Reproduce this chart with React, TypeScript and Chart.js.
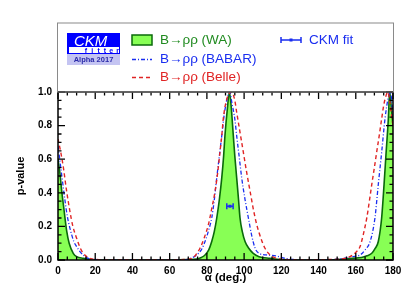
import React, { useEffect, useRef } from "react";
import { Chart, registerables } from "chart.js";

Chart.register(...registerables);

// ---------- data ----------
const waAlpha = [0, 1, 2, 3, 4.7, 6, 8.2, 10, 13.6, 20, 60, 70, 74.5, 77, 79, 81, 82.6, 84, 85.3, 86.7, 88, 89, 89.7, 91, 92.1, 93, 94.2, 95, 96, 97, 97.8, 99, 100.5, 102.5, 104.9, 108, 113.9, 120, 140, 150, 158, 163, 166, 168.6, 170.5, 172.1, 173.9, 175.2, 176.3, 177.5, 178.2, 179, 180];
const waP = [0.6, 0.52, 0.41, 0.32, 0.17, 0.1, 0.04, 0.02, 0.01, 0.0, 0.0, 0.002, 0.005, 0.015, 0.03, 0.06, 0.11, 0.17, 0.25, 0.36, 0.49, 0.62, 0.74, 0.9, 1.0, 0.92, 0.74, 0.62, 0.49, 0.36, 0.25, 0.17, 0.11, 0.07, 0.04, 0.02, 0.01, 0.003, 0.0, 0.002, 0.01, 0.015, 0.025, 0.04, 0.07, 0.11, 0.25, 0.45, 0.64, 0.84, 1.0, 0.92, 0.8];

const babarAlpha = [0, 1.5, 3.8, 5, 6.4, 8.5, 10, 11.8, 14, 16.3, 20, 25, 65, 70, 74.5, 77, 79, 81, 82.6, 84, 85.3, 86.7, 88, 89.5, 92.3, 93.5, 95, 96, 97.3, 98.7, 100.5, 102.3, 104, 105.9, 108, 112, 117, 122, 128, 135, 145, 150, 153.3, 158, 162.3, 165, 167.7, 170.3, 172.1, 173.9, 175.7, 177.5, 178.5, 179.3, 180];
const babarP = [0.68, 0.55, 0.35, 0.26, 0.19, 0.11, 0.08, 0.05, 0.025, 0.01, 0.003, 0.0, 0.0, 0.005, 0.03, 0.06, 0.11, 0.18, 0.25, 0.36, 0.49, 0.62, 0.74, 0.88, 1.0, 0.93, 0.84, 0.74, 0.62, 0.49, 0.36, 0.25, 0.15, 0.07, 0.04, 0.03, 0.025, 0.01, 0.002, 0.0, 0.0, 0.005, 0.01, 0.02, 0.03, 0.06, 0.11, 0.25, 0.45, 0.64, 0.84, 0.97, 1.0, 0.95, 0.85];

const belleAlpha = [0, 1.5, 2.9, 4.5, 6.4, 8, 10, 12, 13.6, 17, 22, 28, 62, 68, 71.8, 74, 76.3, 78.5, 80.8, 82.5, 84.4, 85.8, 87, 88, 88.8, 90.5, 93.3, 95, 96, 97.8, 99.6, 101.4, 103.2, 105, 106.8, 109, 111.2, 114, 117.5, 122, 128, 140, 146, 151.5, 156.9, 160, 162.3, 164, 165.9, 167.3, 168.6, 170, 171.2, 172.6, 173.9, 175, 176.3, 177.2, 178.2, 179, 180];
const belleP = [0.72, 0.64, 0.55, 0.42, 0.29, 0.2, 0.13, 0.07, 0.04, 0.01, 0.002, 0.0, 0.0, 0.004, 0.01, 0.03, 0.07, 0.13, 0.21, 0.3, 0.41, 0.52, 0.64, 0.74, 0.84, 0.95, 1.0, 0.95, 0.88, 0.76, 0.64, 0.52, 0.41, 0.3, 0.21, 0.13, 0.07, 0.03, 0.01, 0.003, 0.0, 0.0, 0.003, 0.005, 0.02, 0.045, 0.08, 0.15, 0.25, 0.35, 0.45, 0.55, 0.64, 0.74, 0.84, 0.92, 0.98, 1.0, 0.95, 0.88, 0.8];

const fitAlpha = [92.4];
const fitErrLow = [1.7];
const fitErrHigh = [1.7];
const fitP = [0.32];

const legendLabels = ["B→ρρ (WA)", "B→ρρ (BABAR)", "B→ρρ (Belle)", "CKM fit"];
const logoTexts = ["CKM", "fitter", "Alpha 2017"];
const xTitle = "α (deg.)";
const yTitle = "p-value";

const FONT = "'Liberation Sans', Arial, Helvetica, sans-serif";
const GREEN_FILL = "#88ff55";
const GREEN_LINE = "#0a6a0a";
const GREEN_TEXT = "#1f8a1f";
const BLUE = "#1a2ef0";
const RED = "#e02424";

const pts = (xs: number[], ys: number[]) => xs.map((x, i) => ({ x, y: ys[i] }));

const framePlugin = {
  id: "frameTicks",
  afterDatasetsDraw(chart: any) {
    const { ctx, chartArea: a, scales } = chart;
    const x = scales.x;
    const y = scales.y;
    ctx.save();
    // CKM fit error bar
    ctx.strokeStyle = BLUE;
    ctx.fillStyle = BLUE;
    ctx.lineWidth = 1.5;
    fitAlpha.forEach((v, i) => {
      const py = y.getPixelForValue(fitP[i]);
      const x0 = x.getPixelForValue(v - fitErrLow[i]);
      const x1 = x.getPixelForValue(v + fitErrHigh[i]);
      ctx.beginPath();
      ctx.moveTo(x0, py);
      ctx.lineTo(x1, py);
      ctx.moveTo(x0, py - 3);
      ctx.lineTo(x0, py + 3);
      ctx.moveTo(x1, py - 3);
      ctx.lineTo(x1, py + 3);
      ctx.stroke();
      ctx.fillRect(x.getPixelForValue(v) - 1.5, py - 1.5, 3, 3);
    });

    ctx.strokeStyle = "#000";
    ctx.lineWidth = 1.3;
    ctx.beginPath();
    for (let k = 0; k <= 36; k++) {
      const v = k * 5;
      const px = x.getPixelForValue(v);
      const len = k % 4 === 0 ? 7 : 3.5;
      ctx.moveTo(px, a.bottom);
      ctx.lineTo(px, a.bottom - len);
      ctx.moveTo(px, a.top);
      ctx.lineTo(px, a.top + len);
    }
    for (let k = 0; k <= 20; k++) {
      const v = k * 0.05;
      const py = y.getPixelForValue(v);
      const len = k % 4 === 0 ? 7 : 3.5;
      ctx.moveTo(a.left, py);
      ctx.lineTo(a.left + len, py);
      ctx.moveTo(a.right, py);
      ctx.lineTo(a.right - len, py);
    }
    ctx.stroke();
    ctx.lineWidth = 1.5;
    ctx.strokeRect(a.left, a.top, a.right - a.left, a.bottom - a.top);
    ctx.restore();
  },
  afterDraw(chart: any) {
    const { ctx, chartArea: a } = chart;
    ctx.save();
    // legend frame
    ctx.strokeStyle = "#8a8a8a";
    ctx.lineWidth = 1;
    ctx.strokeRect(a.left - 0.5, 23, a.right - a.left + 1, a.top - 23);

    // logo
    ctx.fillStyle = "#0000ff";
    ctx.fillRect(67, 33, 53, 21);
    ctx.fillStyle = "#ffffff";
    ctx.fillRect(69, 47, 50, 6);
    ctx.fillStyle = "#c4c4f2";
    ctx.fillRect(67, 54, 53, 11);
    ctx.fillStyle = "#ffffff";
    ctx.font = `italic 15px ${FONT}`;
    ctx.textAlign = "left";
    ctx.textBaseline = "alphabetic";
    ctx.fillText(logoTexts[0], 74, 46);
    ctx.fillStyle = "#0000ff";
    ctx.font = `bold 7px ${FONT}`;
    ctx.textAlign = "center";
    const letters = logoTexts[1].split("");
    letters.forEach((c, i) => ctx.fillText(c, 86 + i * 6.3, 52.5));
    ctx.fillStyle = "#2a2aa8";
    ctx.font = `bold 7.5px ${FONT}`;
    ctx.textBaseline = "middle";
    ctx.fillText(logoTexts[2], 93.5, 60);

    // items
    ctx.fillStyle = GREEN_FILL;
    ctx.fillRect(132, 35, 20, 10);
    ctx.strokeStyle = GREEN_LINE;
    ctx.lineWidth = 1.5;
    ctx.strokeRect(132, 35, 20, 10);

    ctx.lineWidth = 1.3;
    ctx.strokeStyle = BLUE;
    ctx.setLineDash([4, 2, 1, 2]);
    ctx.beginPath();
    ctx.moveTo(132, 59.5);
    ctx.lineTo(152, 59.5);
    ctx.stroke();
    ctx.strokeStyle = RED;
    ctx.setLineDash([4, 3]);
    ctx.beginPath();
    ctx.moveTo(132, 77.5);
    ctx.lineTo(152, 77.5);
    ctx.stroke();
    ctx.setLineDash([]);

    // CKM fit symbol
    ctx.strokeStyle = BLUE;
    ctx.fillStyle = BLUE;
    ctx.lineWidth = 1.5;
    ctx.beginPath();
    ctx.moveTo(281, 40);
    ctx.lineTo(301, 40);
    ctx.moveTo(281, 37);
    ctx.lineTo(281, 43);
    ctx.moveTo(301, 37);
    ctx.lineTo(301, 43);
    ctx.stroke();
    ctx.fillRect(289.5, 38.5, 3, 3);

    ctx.font = `13.5px ${FONT}`;
    ctx.textAlign = "left";
    ctx.textBaseline = "middle";
    ctx.fillStyle = GREEN_TEXT;
    ctx.fillText(legendLabels[0], 160, 40.5);
    ctx.fillStyle = BLUE;
    ctx.fillText(legendLabels[1], 160, 59.5);
    ctx.fillStyle = RED;
    ctx.fillText(legendLabels[2], 160, 77.5);
    ctx.fillStyle = BLUE;
    ctx.fillText(legendLabels[3], 309, 40.5);
    ctx.restore();
  },
};

export default function App() {
  const ref = useRef<HTMLCanvasElement | null>(null);
  useEffect(() => {
    if (!ref.current) return;
    const chart = new Chart(ref.current, {
      type: "line",
      data: {
        datasets: [
          {
            label: legendLabels[2],
            data: pts(belleAlpha, belleP),
            borderColor: RED,
            borderWidth: 1.4,
            borderDash: [4, 3],
            pointRadius: 0,
            fill: false,
            cubicInterpolationMode: "monotone",
          },
          {
            label: legendLabels[1],
            data: pts(babarAlpha, babarP),
            borderColor: BLUE,
            borderWidth: 1.3,
            borderDash: [4, 2, 1, 2],
            pointRadius: 0,
            fill: false,
            cubicInterpolationMode: "monotone",
          },
          {
            label: legendLabels[0],
            data: pts(waAlpha, waP),
            borderColor: GREEN_LINE,
            backgroundColor: GREEN_FILL,
            borderWidth: 1.6,
            pointRadius: 0,
            fill: "origin",
            cubicInterpolationMode: "monotone",
          },
        ],
      },
      options: {
        animation: false,
        responsive: false,
        devicePixelRatio: 1,
        layout: { padding: { left: 0, right: 21, top: 92, bottom: 0 } },
        plugins: { legend: { display: false }, tooltip: { enabled: false } },
        scales: {
          x: {
            type: "linear",
            min: 0,
            max: 180,
            afterFit: (s: any) => {
              s.height = 43;
            },
            grid: { display: false, drawTicks: false },
            border: { display: false },
            ticks: {
              stepSize: 20,
              padding: 5,
              color: "#000",
              font: { family: FONT, size: 10, weight: "bold" },
              maxRotation: 0,
            },
            title: {
              display: true,
              text: xTitle,
              color: "#000",
              font: { family: FONT, size: 11.5, weight: "bold" },
              padding: { top: 0, bottom: 18 },
            },
          },
          y: {
            min: 0,
            max: 1,
            afterFit: (s: any) => {
              s.width = 58;
            },
            grid: { display: false, drawTicks: false },
            border: { display: false },
            ticks: {
              stepSize: 0.2,
              padding: 6,
              color: "#000",
              font: { family: FONT, size: 10, weight: "bold" },
              callback: (v: any) => Number(v).toFixed(1),
            },
            title: {
              display: true,
              text: yTitle,
              color: "#000",
              font: { family: FONT, size: 11, weight: "bold" },
              padding: { top: 14, bottom: 0 },
            },
          },
        },
      },
      plugins: [framePlugin],
    });
    return () => chart.destroy();
  }, []);
  return (
    <div style={{ position: "absolute", left: 0, top: 0, width: 414, height: 303, background: "#fff" }}>
      <canvas ref={ref} width={414} height={303} style={{ width: 414, height: 303, display: "block" }} />
    </div>
  );
}
